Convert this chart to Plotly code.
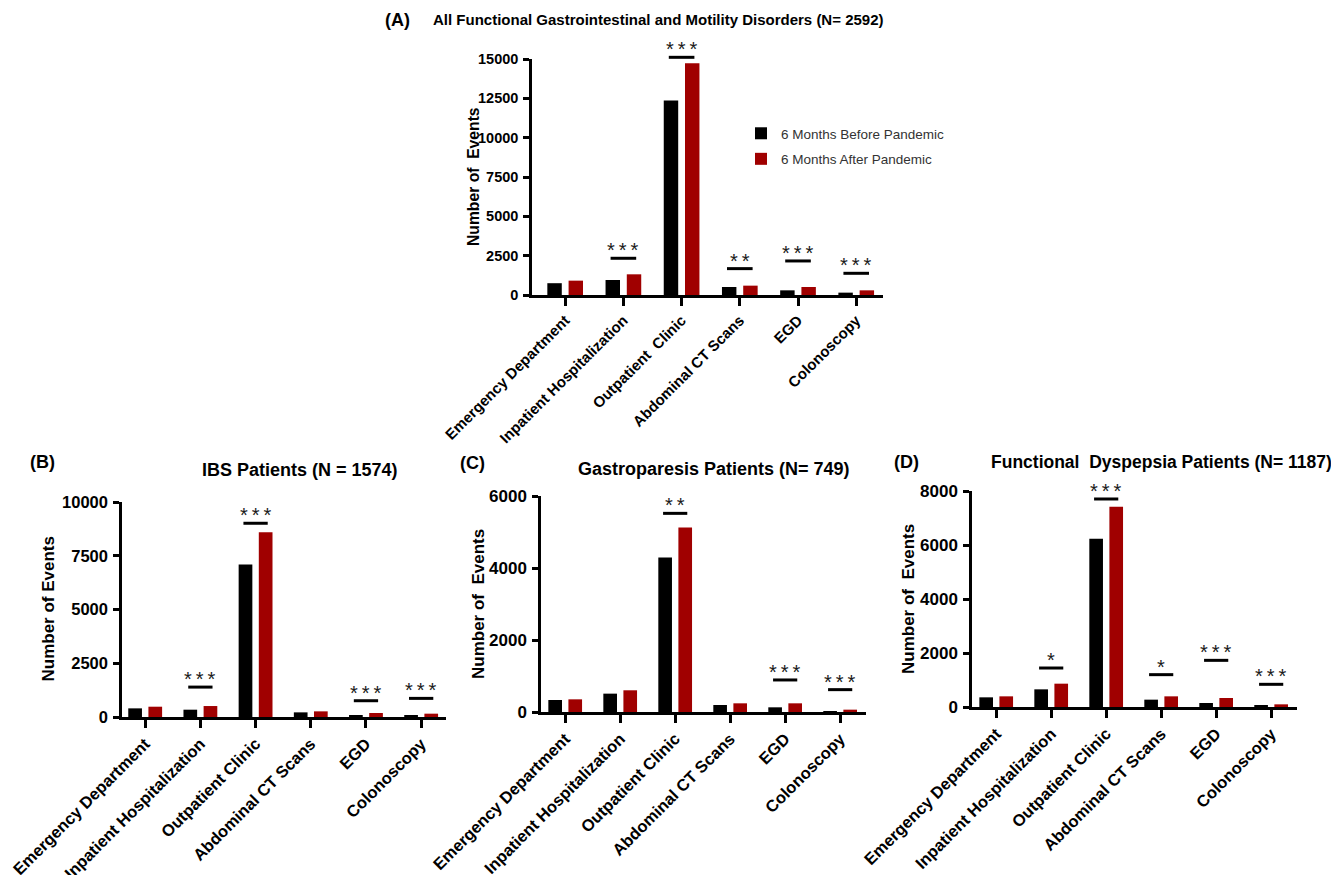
import plotly.graph_objects as go

NB = "\u00a0"
TS = "\u2009"
cats_A = ["Emergency Department", "Inpatient Hospitalization", "Outpatient " + NB + "Clinic",
          "Abdominal CT Scans", "EGD", "Colonoscopy"]
cats = ["Emergency Department", "Inpatient Hospitalization", "Outpatient Clinic",
        "Abdominal CT Scans", "EGD", "Colonoscopy"]

series_names = ["6 Months Before Pandemic", "6 Months After Pandemic"]

A_before = [750, 955, 12370, 509, 297, 150]
A_after = [912, 1315, 14725, 594, 509, 297]
B_before = [402, 340, 7094, 216, 62, 62]
B_after = [479, 510, 8594, 263, 185, 155]
C_before = [334, 510, 4294, 195, 130, 15]
C_after = [352, 603, 5128, 241, 241, 65]
D_before = [358, 654, 6235, 272, 148, 62]
D_after = [395, 864, 7420, 395, 333, 99]

# significance markers: (category index, label, bracket height)
A_sig = [(1, "***", 2334), (2, "***", 15107), (3, "**", 1676), (4, "***", 2164), (5, "***", 1379)]
B_sig = [(1, "***", 1391), (2, "***", 9011), (4, "***", 757), (5, "***", 866)]
C_sig = [(2, "**", 5518), (4, "***", 890), (5, "***", 621)]
D_sig = [(1, "*", 1444), (2, "***", 7704), (3, "*", 1198), (4, "***", 1728), (5, "***", 840)]

titles = ["All Functional Gastrointestinal and Motility Disorders (N= 2592)",
          "IBS Patients (N = 1574)",
          "Gastroparesis Patients (N= 749)",
          "Functional " + NB + "Dyspepsia Patients (N= 1187)"]
letters = ["(A)", "(B)", "(C)", "(D)"]
ytitles = ["Number of " + NB + "Events", "Number of Events",
           "Number of " + NB + "Events", "Number of " + NB + "Events"]
yranges = [15000, 10000, 6000, 8000]
ydticks = [2500, 2500, 2000, 2000]

OFF = 8  # page body margin
W, H = 1339 - OFF, 875 - OFF
BLACK = "#000000"
RED = "#A00000"
FONT = "Liberation Sans, Arial, sans-serif"


def px_x(v):
    return (v - OFF) / W


def px_y(v):
    return 1 - (v - OFF) / H


# panel pixel boxes (page coords): (left, right, top, bottom)
boxes = [(532, 883, 59, 295), (122, 446, 502, 717), (541, 866, 496, 712), (972, 1297, 491, 707)]
xranges = [(-0.57, 5.46), (-0.42, 5.45), (-0.44, 5.47), (-0.44, 5.47)]
xtick_fs = [15, 16.5, 16.5, 16.5]
ytick_fs = [14.5, 16.5, 17, 17]
ytitle_fs = [15.7, 17, 17, 17]
ytitle_x = [473, 48, 478, 908]

data = [(cats_A, A_before, A_after, A_sig), (cats, B_before, B_after, B_sig),
        (cats, C_before, C_after, C_sig), (cats, D_before, D_after, D_sig)]

fig = go.Figure()
annotations = []
shapes = []

for i, (cc, bef, aft, sig) in enumerate(data):
    xa = "x" if i == 0 else f"x{i+1}"
    ya = "y" if i == 0 else f"y{i+1}"
    fig.add_trace(go.Bar(x=cc, y=bef, name=series_names[0], marker=dict(color=BLACK, line=dict(width=0)),
                         xaxis=xa, yaxis=ya, showlegend=(i == 0), legendgroup="g1"))
    fig.add_trace(go.Bar(x=cc, y=aft, name=series_names[1], marker=dict(color=RED, line=dict(width=0)),
                         xaxis=xa, yaxis=ya, showlegend=(i == 0), legendgroup="g2"))
    l, r, t, b = boxes[i]
    axkey = "xaxis" if i == 0 else f"xaxis{i+1}"
    aykey = "yaxis" if i == 0 else f"yaxis{i+1}"
    fig.layout[axkey] = dict(
        domain=[px_x(l), px_x(r)], anchor=ya, type="category", range=list(xranges[i]),
        showline=True, linecolor=BLACK, linewidth=2.5, ticks="outside", ticklen=8, tickwidth=2.5,
        tickcolor=BLACK, tickangle=-45, showgrid=False, zeroline=False, automargin=False,
        tickfont=dict(family=FONT, size=xtick_fs[i], color=BLACK, weight="bold"))
    fig.layout[aykey] = dict(
        domain=[px_y(b), px_y(t)], anchor=xa, range=[0, yranges[i]], dtick=ydticks[i],
        showline=True, linecolor=BLACK, linewidth=2.5, ticks="outside", ticklen=6, tickwidth=2.5,
        tickcolor=BLACK, showgrid=False, zeroline=False, tickformat="d", ticklabelstandoff=2,
        automargin=False,
        tickfont=dict(family=FONT, size=ytick_fs[i], color=BLACK, weight="bold"))
    # y-axis title
    annotations.append(dict(text=ytitles[i], textangle=-90, xref="paper", yref="paper",
                            x=px_x(ytitle_x[i]), y=px_y((t + b) / 2), xanchor="center", yanchor="middle",
                            showarrow=False, font=dict(family=FONT, size=ytitle_fs[i], color=BLACK, weight="bold")))
    # significance brackets (y in axis-domain fraction so they may sit above the axis top)
    ydom = ya + " domain"
    for (ci, lab, hv) in sig:
        frac = hv / yranges[i]
        shapes.append(dict(type="line", xref=xa, yref=ydom, x0=ci - 0.22, x1=ci + 0.22, y0=frac, y1=frac,
                           line=dict(color=BLACK, width=3)))
        annotations.append(dict(text=TS.join(lab), xref=xa, yref=ydom, x=ci, y=frac, xanchor="center",
                                yanchor="bottom", showarrow=False, yshift=-5,
                                font=dict(family=FONT, size=20, color="#1a1a1a")))

# panel titles and letters
annotations.append(dict(text="(A)", xref="paper", yref="paper", x=px_x(383), y=px_y(20), xanchor="left",
                        yanchor="middle", showarrow=False, font=dict(family=FONT, size=18, color=BLACK, weight="bold")))
annotations.append(dict(text=titles[0], xref="paper", yref="paper", x=px_x(658), y=px_y(20), xanchor="center",
                        yanchor="middle", showarrow=False,
                        font=dict(family=FONT, size=15, color=BLACK, weight="bold")))
letter_pos = [None, (28, 462), (458, 463), (892, 462)]
title_pos = [None, (300, 470), (714, 469), (1161, 462)]
title_fs = [None, 18, 18, 17.5]
for i in range(1, 4):
    annotations.append(dict(text=letters[i], xref="paper", yref="paper", x=px_x(letter_pos[i][0]),
                            y=px_y(letter_pos[i][1]), xanchor="left", yanchor="middle", showarrow=False,
                            font=dict(family=FONT, size=18, color=BLACK, weight="bold")))
    annotations.append(dict(text=titles[i], xref="paper", yref="paper", x=px_x(title_pos[i][0]),
                            y=px_y(title_pos[i][1]), xanchor="center", yanchor="middle", showarrow=False,
                            font=dict(family=FONT, size=title_fs[i], color=BLACK, weight="bold")))

fig.update_layout(
    width=W, height=H, margin=dict(l=0, r=0, t=0, b=0, autoexpand=False),
    plot_bgcolor="white", paper_bgcolor="white",
    barmode="group", bargap=0.27, bargroupgap=0.32,
    annotations=annotations, shapes=shapes,
    legend=dict(x=px_x(741), y=px_y(118), xanchor="left", yanchor="top", traceorder="grouped",
                tracegroupgap=5, bgcolor="rgba(0,0,0,0)",
                font=dict(family=FONT, size=13.5, color="#333333")),
)

fig.write_html("out.html")
